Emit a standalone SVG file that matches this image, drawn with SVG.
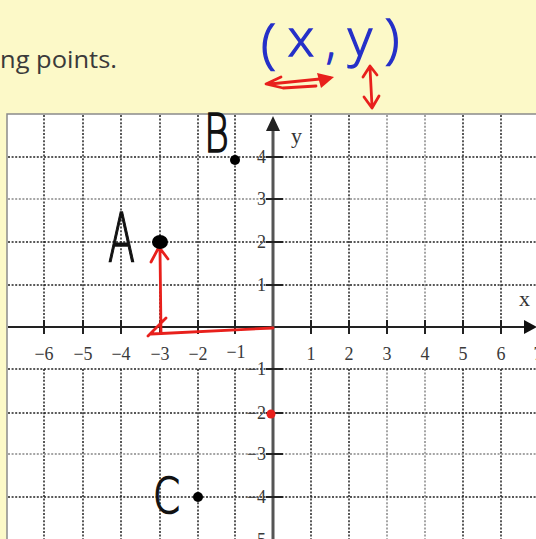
<svg xmlns="http://www.w3.org/2000/svg" width="536" height="539" viewBox="0 0 536 539">
<style>
.grid{stroke:#222;stroke-width:1.5;stroke-dasharray:2 1.6;fill:none}
.gl{stroke:#888}
.tick{stroke:#222;stroke-width:2}
.num{font-family:"Liberation Serif",serif;font-size:18px;fill:#3a3a3a}
.hand{font-family:"DejaVu Sans",sans-serif;font-weight:200;fill:#111;stroke:#111;stroke-width:1.6}
.red{stroke:#e8201c;stroke-width:2.8;fill:none;stroke-linecap:round;stroke-linejoin:round}
.blue{font-family:"Open Sans",sans-serif;font-weight:300;fill:#2530c8;stroke:#2530c8;stroke-width:1.4}
</style>
<rect x="0" y="0" width="536" height="539" fill="#fcf9c8"/>
<text x="0" y="68" font-family="Open Sans,sans-serif" font-size="24" fill="#3a3a3a" textLength="117" lengthAdjust="spacingAndGlyphs">ng points.</text>
<g id="handwritten-xy">
<text class="blue" x="261" y="62" font-size="54">(</text>
<text class="blue" x="288" y="56" font-size="52">x</text>
<text class="blue" x="326" y="58" font-size="44">,</text>
<text class="blue" x="348" y="56" font-size="52">y</text>
<text class="blue" x="385" y="57" font-size="53">)</text>
<path class="red" d="M270,84 L330,78 M281,77 L266,84 L283,88 L316,86"/>
<path d="M317,73 L334,77 L321,88 Z" fill="#e8201c"/>
<path class="red" d="M370,68 L372,106 M363,77 L370,66 L377,75 M364,97 L372,108 L379,96"/>
</g>
<g id="graph">
<rect x="7" y="114" width="540" height="440" fill="#fff" stroke="#8a8a8a" stroke-width="1.5"/>
<g id="gridlines">
<path class="grid" d="M44,115V327M83,115V327M121,115V327M160,115V327M198,115V327M235,115V327M311,115V327M349,115V327M463,115V327M501,115V327"/>
<path class="grid" d="M44,369V539M83,369V539M121,369V539M160,369V539M198,369V539M235,369V539M311,369V539M349,369V539M463,369V539M501,369V539"/>
<path class="grid gl" d="M387,115V327M425,115V327M387,369V539M425,369V539"/>
<path class="grid" d="M8,157H536M8,242H536M8,285H536M8,369H536M8,413H536M8,497H536"/>
<path class="grid gl" d="M8,199H536M8,454H536"/>
</g>
<g id="axes">
<line x1="8" y1="327" x2="528" y2="327" stroke="#222" stroke-width="2"/>
<path d="M524,320 L537,327 L524,334 Z" fill="#111"/>
<line x1="273" y1="539" x2="273" y2="126" stroke="#555" stroke-width="3"/>
<path d="M266,131 L273,116 L280,131 Z" fill="#222"/>
<path class="tick" d="M44,320V334M83,320V334M121,320V334M160,320V334M198,320V334M235,320V334M311,320V334M349,320V334M387,320V334M425,320V334M463,320V334M501,320V334"/>
<path class="tick" d="M266,157H283M266,199H283M266,242H283M266,285H283M266,369H283M266,413H283M266,454H283M266,497H283"/>
<text x="291" y="143" font-family="Liberation Serif,serif" font-size="22" fill="#333">y</text>
<text x="519" y="306" font-family="Liberation Serif,serif" font-size="22" fill="#333">x</text>
<g class="num" text-anchor="middle">
<text x="44" y="360">−6</text><text x="83" y="360">−5</text><text x="121" y="360">−4</text><text x="160" y="360">−3</text><text x="198" y="360">−2</text><text x="236" y="358">−1</text>
<text x="311" y="360">1</text><text x="349" y="360">2</text><text x="387" y="360">3</text><text x="425" y="360">4</text><text x="463" y="360">5</text><text x="501" y="360">6</text><text x="538" y="360">7</text>
</g>
<g class="num" text-anchor="end">
<text x="266" y="163">4</text><text x="266" y="205">3</text><text x="266" y="248">2</text><text x="266" y="291">1</text>
<text x="266" y="375">−1</text><text x="266" y="419">−2</text><text x="266" y="460">−3</text><text x="266" y="503">−4</text><text x="266" y="546">−5</text>
</g>
</g>
</g>
<g id="point-A">
<path class="red" d="M273,328 L151,334 M148,336 L166,318 M160,250 L161,333 M151,262 L159,247 L168,259"/>
<ellipse cx="160" cy="242" rx="8" ry="7" fill="#000"/>
<text class="hand" x="108" y="262" font-size="68" textLength="27" lengthAdjust="spacingAndGlyphs">A</text>
</g>
<g id="point-B">
<circle cx="235" cy="160" r="5" fill="#000"/>
<text class="hand" x="204" y="152" font-size="54" textLength="25" lengthAdjust="spacingAndGlyphs">B</text>
</g>
<g id="point-C">
<circle cx="198" cy="497" r="5" fill="#000"/>
<text class="hand" x="153" y="513" font-size="50" textLength="27" lengthAdjust="spacingAndGlyphs">C</text>
</g>
<g id="red-dot">
<circle cx="271" cy="414" r="4.5" fill="#e8201c"/>
</g>
</svg>
